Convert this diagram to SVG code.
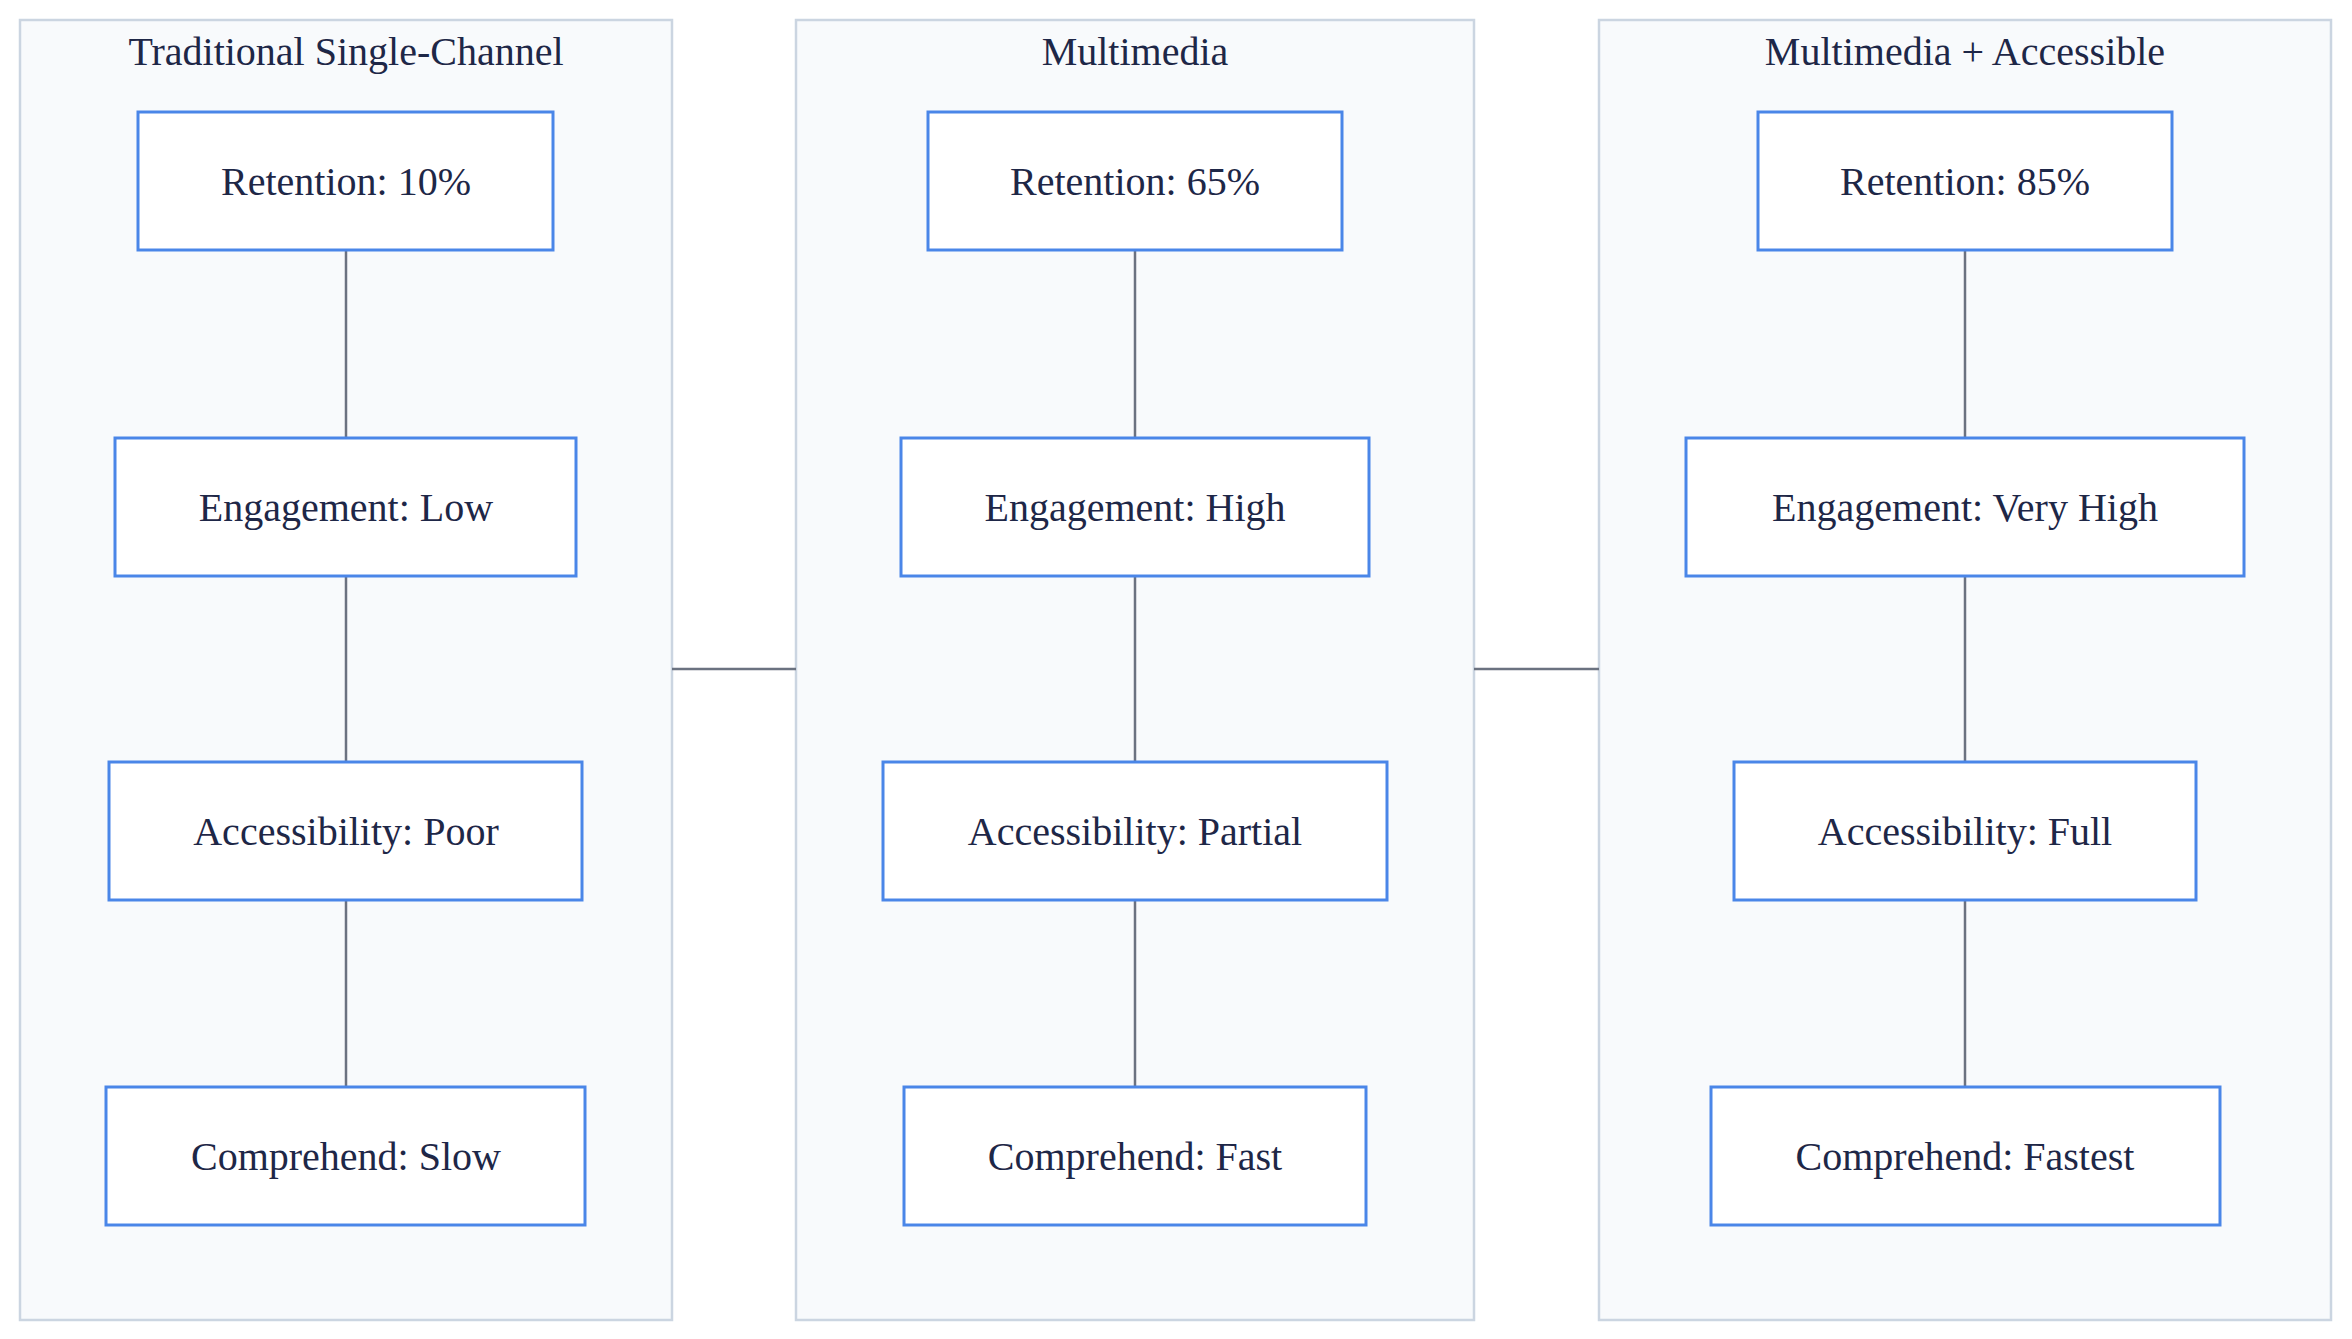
<svg xmlns="http://www.w3.org/2000/svg" width="2352" height="1339" viewBox="0 0 2352 1339">
<style>
.panel{fill:#f8fafc;stroke:#cbd5e1;stroke-width:2.5}
.node{fill:#ffffff;stroke:#4a86e8;stroke-width:3}
.t{font-family:"Liberation Serif",serif;font-size:40px;fill:#1e2747;text-anchor:middle;dominant-baseline:central}
.c{stroke:#6b7280;stroke-width:2.5;fill:none}
</style>
<rect width="2352" height="1339" fill="#ffffff"/>
<g id="panel1"><rect class="panel" x="20" y="20" width="652" height="1300"/><text class="t" x="346" y="51">Traditional Single-Channel</text></g>
<g id="panel2"><rect class="panel" x="796" y="20" width="678" height="1300"/><text class="t" x="1135" y="51">Multimedia</text></g>
<g id="panel3"><rect class="panel" x="1599" y="20" width="732" height="1300"/><text class="t" x="1965" y="51">Multimedia + Accessible</text></g>
<g id="connectors">
<path class="c" d="M346 250V438M346 576V762M346 900V1087"/>
<path class="c" d="M1135 250V438M1135 576V762M1135 900V1087"/>
<path class="c" d="M1965 250V438M1965 576V762M1965 900V1087"/>
<path class="c" d="M672 669H796M1474 669H1599"/>
</g>
<g id="r1"><rect class="node" x="138" y="112" width="415" height="138"/><text class="t" x="346" y="181">Retention: 10%</text></g>
<g id="e1"><rect class="node" x="115" y="438" width="461" height="138"/><text class="t" x="346" y="507">Engagement: Low</text></g>
<g id="a1"><rect class="node" x="109" y="762" width="473" height="138"/><text class="t" x="346" y="831">Accessibility: Poor</text></g>
<g id="c1"><rect class="node" x="106" y="1087" width="479" height="138"/><text class="t" x="346" y="1156">Comprehend: Slow</text></g>
<g id="r2"><rect class="node" x="928" y="112" width="414" height="138"/><text class="t" x="1135" y="181">Retention: 65%</text></g>
<g id="e2"><rect class="node" x="901" y="438" width="468" height="138"/><text class="t" x="1135" y="507">Engagement: High</text></g>
<g id="a2"><rect class="node" x="883" y="762" width="504" height="138"/><text class="t" x="1135" y="831">Accessibility: Partial</text></g>
<g id="c2"><rect class="node" x="904" y="1087" width="462" height="138"/><text class="t" x="1135" y="1156">Comprehend: Fast</text></g>
<g id="r3"><rect class="node" x="1758" y="112" width="414" height="138"/><text class="t" x="1965" y="181">Retention: 85%</text></g>
<g id="e3"><rect class="node" x="1686" y="438" width="558" height="138"/><text class="t" x="1965" y="507">Engagement: Very High</text></g>
<g id="a3"><rect class="node" x="1734" y="762" width="462" height="138"/><text class="t" x="1965" y="831">Accessibility: Full</text></g>
<g id="c3"><rect class="node" x="1711" y="1087" width="509" height="138"/><text class="t" x="1965" y="1156">Comprehend: Fastest</text></g>
</svg>
